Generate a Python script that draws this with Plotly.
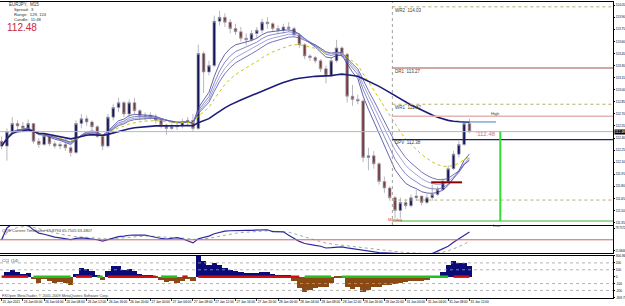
import numpy as np
import pandas as pd
import plotly.graph_objects as go

# ---------------- data (hourly candles, EURJPY) ----------------
open0 = 112.36
high = [112.42,112.52,112.66,112.62,112.60,112.63,112.58,112.40,112.46,112.44,
        112.36,112.35,112.34,112.30,112.62,112.70,112.68,112.62,112.56,112.44,
        112.70,112.82,112.90,112.86,112.88,112.90,112.76,112.72,112.72,112.70,
        112.64,112.58,112.58,112.58,112.64,112.66,112.70,113.56,113.48,113.36,
        113.92,113.98,113.95,113.88,113.82,113.78,113.70,113.74,113.78,113.88,
        113.90,113.84,113.80,113.82,113.84,113.78,113.70,113.58,113.44,113.42,
        113.38,113.30,113.40,113.62,113.54,113.46,113.06,112.94,112.88,112.28,
        112.24,112.10,111.92,111.80,111.68,111.66,111.64,111.70,111.76,111.68,
        111.70,111.82,111.80,111.90,112.06,112.24,112.36,112.60,112.64]
low = [112.26,112.12,112.45,112.50,112.47,112.48,112.33,112.28,112.30,112.30,
       112.27,112.26,112.24,112.17,112.20,112.52,112.55,112.50,112.40,112.25,
       112.28,112.62,112.72,112.66,112.66,112.70,112.62,112.62,112.63,112.58,
       112.52,112.44,112.50,112.50,112.52,112.55,112.48,112.50,112.96,113.18,
       113.28,113.80,113.78,113.70,113.68,113.60,113.55,113.60,113.64,113.70,
       113.76,113.72,113.70,113.70,113.72,113.66,113.52,113.38,113.36,113.33,
       113.22,113.08,113.16,113.34,113.40,112.84,112.80,112.82,112.10,112.00,
       112.02,111.82,111.72,111.62,111.40,111.40,111.52,111.54,111.62,111.56,
       111.58,111.62,111.68,111.74,111.84,112.00,112.16,112.30,112.46]
close = [112.30,112.48,112.58,112.55,112.52,112.58,112.36,112.32,112.43,112.33,
         112.30,112.32,112.28,112.22,112.58,112.64,112.60,112.54,112.42,112.30,
         112.66,112.78,112.84,112.70,112.84,112.74,112.68,112.68,112.66,112.62,
         112.56,112.52,112.54,112.55,112.60,112.62,112.52,113.45,113.22,113.30,
         113.85,113.90,113.84,113.76,113.72,113.64,113.62,113.70,113.74,113.84,
         113.82,113.76,113.74,113.78,113.76,113.68,113.56,113.42,113.40,113.36,
         113.26,113.18,113.36,113.52,113.44,112.92,112.88,112.86,112.16,112.18,
         112.08,111.86,111.78,111.66,111.50,111.60,111.56,111.66,111.68,111.60,
         111.66,111.70,111.76,111.86,112.02,112.20,112.32,112.58,112.48]

tick_labels = ["25 Jan 2011", "26 Jan 00:00", "26 Jan 04:00", "26 Jan 08:00", "26 Jan 12:00",
               "26 Jan 16:00", "26 Jan 20:00", "27 Jan 00:00", "27 Jan 04:00", "27 Jan 08:00",
               "27 Jan 12:00", "27 Jan 16:00", "27 Jan 20:00", "28 Jan 00:00", "28 Jan 04:00",
               "28 Jan 08:00", "28 Jan 12:00", "28 Jan 16:00", "28 Jan 20:00", "31 Jan 00:00",
               "31 Jan 04:00", "31 Jan 08:00", "31 Jan 12:00"]
bars_per_label = 4

pivots = {"WR2": 114.03, "DR1": 113.27, "WR1": 112.82, "DPV": 112.38}
weekly_pivot = 111.63
day_high = 112.67
day_low = 111.37
bid = 112.48
week_start = 73.5
range_top = 112.60
range_bottom = 111.85
price_ticks = [round(111.35 + 0.15 * i, 2) for i in range(19)]
qqe_labels = [21.6846, 79.7572]
cci_ticks = [-309.72, -200, -100, 0, 100, 200, 300.36]

# ---------------- derived ----------------
n = len(close)
idx = np.arange(n)
c = pd.Series(close)
h = pd.Series(high)
l = pd.Series(low)
opens = [open0] + close[:-1]

ema_slow = c.ewm(span=80).mean()
ema_mid = c.ewm(span=20).mean()
ribbon = [c.ewm(span=s).mean() for s in (8, 10, 12, 14)]

d = c.diff().fillna(0)
gain = d.clip(lower=0).rolling(14, min_periods=1).mean()
loss = (-d.clip(upper=0)).rolling(14, min_periods=1).mean()
rsi = (100 * gain / (gain + loss).replace(0, np.nan)).fillna(50)
qqe = rsi.ewm(span=5).mean()
qqe_slow = qqe.ewm(span=8).mean()

tp = (h + l + c) / 3
sma = tp.rolling(14, min_periods=1).mean()
mad = tp.rolling(14, min_periods=1).apply(lambda x: np.mean(np.abs(x - x.mean())), raw=True)
cci = ((tp - sma) / (0.015 * mad.replace(0, np.nan))).fillna(0).clip(-305, 298)

FONT = "Liberation Sans, Arial, sans-serif"
fig = go.Figure()

rib_colors = ["#3c3c96", "#6a6ab8", "#8a8ad0", "#5050a8"]
for s, col in zip(ribbon, rib_colors):
    fig.add_trace(go.Scatter(x=idx, y=s, mode="lines", line=dict(color=col, width=0.8),
                             hoverinfo="skip", showlegend=False))
fig.add_trace(go.Scatter(x=idx, y=ema_mid, mode="lines",
                         line=dict(color="#c8c800", width=1, dash="dot"), showlegend=False))
fig.add_trace(go.Scatter(x=idx, y=ema_slow, mode="lines",
                         line=dict(color="#1c1c78", width=1.6), showlegend=False))

fig.add_trace(go.Candlestick(x=idx, open=opens, high=high, low=low, close=close,
                             increasing=dict(line=dict(color="#9a9aa6", width=0.7), fillcolor="#14145a"),
                             decreasing=dict(line=dict(color="#9a9aa6", width=0.7), fillcolor="#7a3a3a"),
                             whiskerwidth=0, showlegend=False))

xr = [-0.3, 115.0]
x_end = xr[1]
fig.add_shape(type="line", x0=xr[0], x1=x_end, y0=bid, y1=bid, xref="x", yref="y",
              line=dict(color="#b8b8b8", width=1))
fig.add_shape(type="line", x0=week_start, x1=week_start, y0=111.32, y1=114.09, xref="x", yref="y",
              line=dict(color="#a0a0a0", width=1, dash="dot"))
for key in ("WR2", "WR1"):
    fig.add_shape(type="line", x0=week_start, x1=x_end, y0=pivots[key], y1=pivots[key],
                  line=dict(color="#b0b070", width=1, dash="dot"))
fig.add_shape(type="line", x0=week_start, x1=x_end, y0=weekly_pivot, y1=weekly_pivot,
              line=dict(color="#b0b070", width=1, dash="dot"))
fig.add_shape(type="line", x0=week_start, x1=x_end, y0=pivots["DR1"], y1=pivots["DR1"],
              line=dict(color="#c08a8a", width=1.6))
fig.add_shape(type="line", x0=week_start, x1=x_end, y0=day_high, y1=day_high,
              line=dict(color="#e2b4b4", width=1.6))
fig.add_shape(type="line", x0=week_start, x1=x_end, y0=pivots["DPV"], y1=pivots["DPV"],
              line=dict(color="#22226e", width=1.2))
fig.add_shape(type="line", x0=week_start, x1=x_end, y0=day_low, y1=day_low,
              line=dict(color="#40b040", width=1.2))
fig.add_shape(type="line", x0=93.8, x1=93.8, y0=bid, y1=day_low,
              line=dict(color="#33dd33", width=2))
fig.add_shape(type="line", x0=86, x1=93, y0=range_top, y1=range_top,
              line=dict(color="#4682b4", width=1))
fig.add_shape(type="line", x0=80.8, x1=86.6, y0=range_bottom, y1=range_bottom,
              line=dict(color="#8b0000", width=2))

def ann(x, y, text, size=5, color="#404040", xanchor="left", yanchor="middle", xref="x", yref="y", **kw):
    fig.add_annotation(x=x, y=y, text=text, showarrow=False, xref=xref, yref=yref,
                       xanchor=xanchor, yanchor=yanchor, font=dict(size=size, color=color, family=FONT),
                       borderpad=0, **kw)

for name, val in pivots.items():
    ann(week_start + 0.4, val - 0.04, f"{name}  {val:.2f}", size=4.5)
ann(91.8, day_high + 0.035, "High", size=4)
ann(92.2, day_low - 0.05, "Low", size=4)
ann(93.2, bid - 0.03, "'112.48", size=6, color="#c07c7c", xanchor="right")
ann(72.4, day_low + 0.02, "Monday", size=4, color="#e03030")

def pann(px, py, text, size=5, color="#303030", **kw):
    ann(px / 613, (298 - py) / 296, text, size=size, color=color, xref="paper", yref="paper", **kw)
pann(8, 4, "EURJPY,  M15", size=4.5)
pann(13, 9, "Spread:  3", size=4.2)
pann(13, 14, "Range:  129, 124", size=4.2)
pann(13, 19, "Candle:  11:48", size=4.2)
pann(6, 28, "112.48", size=10, color="#c8283c")

fig.add_annotation(x=1.0, y=bid, xref="paper", yref="y", text="112.48", showarrow=False,
                   xanchor="left", bgcolor="#000000", font=dict(size=3.3, color="white", family=FONT),
                   borderpad=0, xshift=1)

# ---- QQE panel ----
fig.add_trace(go.Scatter(x=idx, y=qqe_slow, mode="lines", line=dict(color="#909090", width=0.8, dash="dot"),
                         xaxis="x2", yaxis="y2", showlegend=False))
fig.add_trace(go.Scatter(x=idx, y=qqe, mode="lines", line=dict(color="#2a2aa0", width=1.2),
                         xaxis="x2", yaxis="y2", showlegend=False))
fig.add_shape(type="line", x0=xr[0], x1=x_end, y0=50, y1=50, xref="x2", yref="y2",
              line=dict(color="#d06060", width=1))
ann(1 / 613, (298 - 230) / 296, "QQE Current Timeframe 69.8794 65.7505 63.4807", size=4,
    xref="paper", yref="paper")

# ---- CCI panel ----
cols = np.where(cci.values > 0, "#0a0a78", "#8b4a14")
fig.add_trace(go.Bar(x=idx, y=cci, marker=dict(color=cols, line=dict(width=0)), width=1.0,
                     xaxis="x3", yaxis="y3", showlegend=False))
trend_green = (c < ema_mid).values
fig.add_trace(go.Scatter(x=idx, y=[0 if g else None for g in trend_green], mode="lines",
                         line=dict(color="#22c022", width=2.5), xaxis="x3", yaxis="y3", showlegend=False))
fig.add_trace(go.Scatter(x=idx, y=[None if g else 0 for g in trend_green], mode="lines",
                         line=dict(color="#d01010", width=2.5), xaxis="x3", yaxis="y3", showlegend=False))
for lv in (200, 100, -100, -200):
    fig.add_shape(type="line", x0=xr[0], x1=x_end, y0=lv, y1=lv, xref="x3", yref="y3",
                  line=dict(color="#a0a0a0", width=0.8, dash="dot"))
ann(1 / 613, (298 - 260) / 296, "CCI  (14)", size=4, xref="paper", yref="paper")
ann(1 / 613, (298 - 295.5) / 296, "FXOpen MetaTrader, © 2001-2009 MetaQuotes Software Corp.", size=3.8,
    xref="paper", yref="paper")

axis_common = dict(showgrid=False, zeroline=False, showline=True, linecolor="#000000", linewidth=1,
                   mirror=True, automargin=False)
tickvals = list(range(0, n, bars_per_label))
yt = dict(tickfont=dict(size=3.2), ticks="outside", ticklen=1, tickcolor="#000000")
yt2 = dict(tickfont=dict(size=2.7), ticks="outside", ticklen=1, tickcolor="#000000")
fig.update_layout(
    width=625, height=306, margin=dict(l=0, r=12, t=2, b=8),
    paper_bgcolor="white", plot_bgcolor="white", showlegend=False, bargap=0,
    font=dict(family=FONT, size=5, color="#000000"),
    xaxis=dict(range=xr, domain=[0, 1], anchor="y", showticklabels=False, rangeslider=dict(visible=False),
               **axis_common),
    xaxis2=dict(range=xr, domain=[0, 1], anchor="y2", showticklabels=False, matches="x", **axis_common),
    xaxis3=dict(range=xr, domain=[0, 1], anchor="y3", matches="x", tickvals=tickvals,
                ticktext=tick_labels, tickfont=dict(size=3.2), ticks="outside", ticklen=2, tickangle=0,
                ticklabelposition="outside right", **axis_common),
    yaxis=dict(domain=[0.2466, 1.0], range=[111.32, 114.09], side="right", tickvals=price_ticks,
               ticktext=[f"{v:.2f}" for v in price_ticks], **yt, **axis_common),
    yaxis2=dict(domain=[0.152, 0.2432], range=[16.6, 84.8], side="right", tickvals=qqe_labels,
                ticktext=[f"{v:.4f}" for v in qqe_labels], **yt2, **axis_common),
    yaxis3=dict(domain=[0.0, 0.1419], range=[-310, 300.4], side="right", tickvals=cci_ticks,
                ticktext=[f"{v:g}" for v in cci_ticks], **yt, **axis_common),
)
fig.write_html("out.html")
